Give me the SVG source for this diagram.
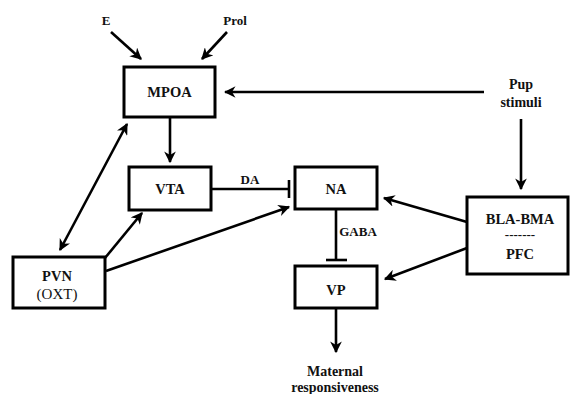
<svg xmlns="http://www.w3.org/2000/svg" width="570" height="394" viewBox="0 0 570 394">
<style>
.box{fill:#fff;stroke:#000;stroke-width:3}
.ln{fill:none;stroke:#000;stroke-width:2.6}
text{font-family:"Liberation Serif","Times New Roman",serif;font-weight:bold;font-size:13px;fill:#111;text-anchor:middle}
.nd{font-size:14.5px}
.md{font-size:14px}
.reg{font-weight:normal;font-size:15px}
</style>
<defs>
<marker id="ah" viewBox="0 0 10 10" refX="9" refY="5" markerWidth="4.5" markerHeight="4.5" orient="auto-start-reverse" markerUnits="strokeWidth">
<path d="M0,0 L10,5 L0,10 L3,5 Z" fill="#000"/>
</marker>
</defs>
<g id="connectors">
<line class="ln" x1="111" y1="32" x2="141" y2="59" marker-end="url(#ah)"/>
<line class="ln" x1="227" y1="32" x2="202" y2="59" marker-end="url(#ah)"/>
<line class="ln" x1="484" y1="92" x2="225" y2="92" marker-end="url(#ah)"/>
<line class="ln" x1="521" y1="119" x2="521" y2="189" marker-end="url(#ah)"/>
<line class="ln" x1="170" y1="117" x2="170" y2="162" marker-end="url(#ah)"/>
<line class="ln" x1="60" y1="250" x2="127" y2="124" marker-start="url(#ah)" marker-end="url(#ah)"/>
<line class="ln" x1="105" y1="258" x2="142" y2="213" marker-end="url(#ah)"/>
<line class="ln" x1="106" y1="271" x2="289" y2="207" marker-end="url(#ah)"/>
<line class="ln" x1="211" y1="189" x2="289" y2="189"/>
<line class="ln" x1="289" y1="180" x2="289" y2="198"/>
<line class="ln" x1="336" y1="209" x2="336" y2="260"/>
<line class="ln" x1="326" y1="260" x2="347" y2="260"/>
<line class="ln" x1="467" y1="222" x2="384" y2="198" marker-end="url(#ah)"/>
<line class="ln" x1="467" y1="248" x2="385" y2="279" marker-end="url(#ah)"/>
<line class="ln" x1="336" y1="308" x2="336" y2="352" marker-end="url(#ah)"/>
<text x="250" y="184">DA</text>
<text x="358" y="236">GABA</text>
</g>
<g id="E"><text x="106" y="25">E</text></g>
<g id="Prol"><text x="235" y="25">Prol</text></g>
<g id="MPOA"><rect class="box" x="124" y="67" width="91" height="50"/><text class="nd" x="169.5" y="97">MPOA</text></g>
<g id="Pup"><text class="md" x="521" y="89">Pup</text><text class="md" x="521" y="107">stimuli</text></g>
<g id="VTA"><rect class="box" x="129" y="167" width="82" height="43"/><text class="nd" x="170" y="194">VTA</text></g>
<g id="NA"><rect class="box" x="295" y="167" width="82" height="42"/><text class="nd" x="336" y="194">NA</text></g>
<g id="PVN"><rect class="box" x="13" y="257" width="92" height="51"/><text class="nd" x="57" y="281">PVN</text><text class="reg" x="57" y="299">(OXT)</text></g>
<g id="VP"><rect class="box" x="295" y="266" width="82" height="42"/><text class="nd" x="336" y="295">VP</text></g>
<g id="BLA"><rect class="box" x="467" y="197" width="101" height="77"/><text class="nd" x="520" y="224">BLA-BMA</text><text x="520" y="239">-------</text><text class="nd" x="520" y="259">PFC</text></g>
<g id="Maternal"><text class="md" x="335" y="376">Maternal</text><text class="md" x="335" y="392">responsiveness</text></g>
</svg>
